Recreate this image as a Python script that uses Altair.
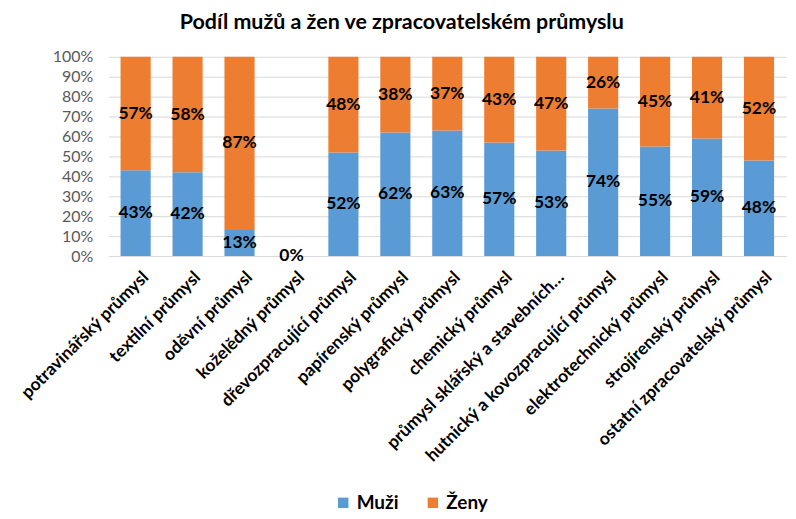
import altair as alt
import pandas as pd

categories = [
    "potravinářský průmysl", "textilní průmysl", "oděvní průmysl", "koželědný průmysl",
    "dřevozpracující průmysl", "papírenský průmysl", "polygrafický průmysl", "chemický průmysl",
    "průmysl sklářský a stavebních…", "hutnický a kovozpracující průmysl",
    "elektrotechnický průmysl", "strojírenský průmysl", "ostatní zpracovatelský průmysl",
]
muzi = [43, 42, 13, 0, 52, 62, 63, 57, 53, 74, 55, 59, 48]
zeny = [57, 58, 87, 0, 48, 38, 37, 43, 47, 26, 45, 41, 52]
series = ["Muži", "Ženy"]
colors = ["#5B9BD5", "#ED7D31"]
ticks = [0, 10, 20, 30, 40, 50, 60, 70, 80, 90, 100]

rows = []
for i, c in enumerate(categories):
    rows.append({"cat": c, "sex": "Muži", "value": muzi[i], "ord": 0})
    rows.append({"cat": c, "sex": "Ženy", "value": zeny[i], "ord": 1})
df = pd.DataFrame(rows)

FONT = "Lato"

base = alt.Chart(df).transform_stack(
    stack="value", groupby=["cat"], as_=["y0", "y1"],
    sort=[alt.SortField("ord", order="ascending")]
).transform_calculate(
    mid="(datum.y0 + datum.y1) / 2",
    label="datum.value + '%'"
)

yscale = alt.Scale(domain=[0, 100], nice=False)
yaxis = alt.Axis(values=ticks, labelExpr="datum.value + '%'",
                 labelFont=FONT, labelFontSize=16, labelColor="#595959",
                 ticks=False, domain=False, gridColor="#D9D9D9",
                 labelPadding=16, labelOverlap=False, title=None)

x = alt.X("cat:N", sort=categories, title=None,
          scale=alt.Scale(paddingInner=0.42, paddingOuter=0.23),
          axis=alt.Axis(labelAngle=-45, labelAlign="right", labelBaseline="top",
                        labelFont=FONT, labelFontSize=17.5, labelFontWeight="bold",
                        labelColor="#000000", ticks=False, domain=True,
                        domainColor="#D9D9D9", labelPadding=12, labelOffset=4,
                        labelLimit=400))

bars = base.mark_bar().encode(
    x=x,
    y=alt.Y("y0:Q", title=None, scale=yscale, axis=yaxis),
    y2="y1:Q",
    color=alt.Color("sex:N", sort=series,
                    scale=alt.Scale(domain=series, range=colors),
                    legend=alt.Legend(title=None, orient="none", direction="horizontal",
                                      legendX=226, legendY=438, symbolType="square",
                                      symbolSize=110, symbolStrokeWidth=0,
                                      labelFont=FONT, labelFontSize=19,
                                      labelFontWeight="bold", labelColor="#000000",
                                      columnPadding=24)),
)

texts = base.transform_filter("datum.value > 0 || datum.sex == 'Muži'").mark_text(
    font=FONT, fontSize=17.5, fontWeight="bold", color="#000000", baseline="middle"
).encode(
    x=x,
    y=alt.Y("mid:Q", title=None, scale=yscale, axis=yaxis),
    text="label:N",
)

chart = (bars + texts).properties(
    width=680, height=200,
    title=alt.TitleParams("Podíl mužů a žen ve zpracovatelském průmyslu",
                          font=FONT, fontSize=21.5, fontWeight="bold", color="#000000",
                          anchor="middle", frame="bounds", offset=15),
    padding={"left": 9, "right": 2, "top": 3, "bottom": 2},
).configure_view(stroke=None)

chart.save("out.html", embed_options={"renderer": "svg", "actions": False})
